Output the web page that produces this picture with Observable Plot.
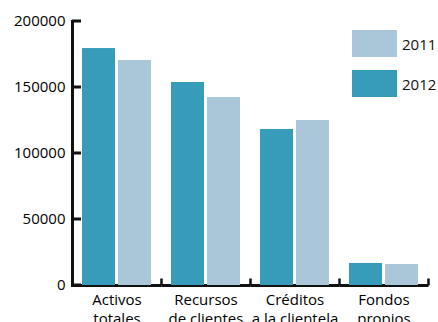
<!DOCTYPE html>
<html>
<head>
<meta charset="utf-8">
<script src="https://cdn.jsdelivr.net/npm/d3@7"></script>
<script src="https://cdn.jsdelivr.net/npm/@observablehq/plot@0.6"></script>
<style>
  html, body { margin: 0; padding: 0; background: #fff; }
  #chart { position: relative; width: 438px; height: 322px; }
  #chart svg { font-family: "Open Sans", sans-serif; font-size: 15px; }
  #legend { position: absolute; left: 352px; top: 30px; font: 15px "Open Sans", sans-serif; color: #111; }
  #legend .row { display: flex; align-items: center; height: 27px; margin-bottom: 13px; }
  #legend .sw { width: 45px; height: 27px; margin-right: 5px; }
</style>
</head>
<body>
<div id="chart"></div>
<script>
// Categories and their two-line axis labels
const categories = ["Activos totales", "Recursos de clientes", "Créditos a la clientela", "Fondos propios"];
const categoryLabels = ["Activos\ntotales", "Recursos\nde clientes", "Créditos\na la clientela", "Fondos\npropios"];

// Series (drawn order: 2012 first, then 2011)
const years = ["2012", "2011"];
const values2012 = [179500, 153800, 118200, 16700];
const values2011 = [170500, 142400, 125000, 15900];

// Legend order and colours
const legendYears = ["2011", "2012"];
const legendColors = ["#a9c7d8", "#379cba"];

// Y axis ticks
const yTicks = [0, 50000, 100000, 150000, 200000];

const rows = categories.flatMap((c, i) => [
  {category: c, year: "2012", value: values2012[i]},
  {category: c, year: "2011", value: values2011[i]}
]);

const width = 438, height = 322;
const marginTop = 21, marginBottom = 37, marginLeft = 72, marginRight = 10;
const facetHeight = height - marginTop - marginBottom;
const facetWidth = (width - marginLeft - marginRight) / categories.length;
const ink = "#111";
const axisWeight = 3, tickLength = 9, groupTickLength = 7;

const chart = Plot.plot({
  width, height, marginTop, marginBottom, marginLeft, marginRight,
  fx: {domain: categories, padding: 0, round: false, label: null},
  x: {domain: years, paddingInner: 3 / 36, paddingOuter: 0.278, round: false, axis: null},
  y: {domain: [0, 200000], label: null},
  color: {domain: legendYears, range: legendColors},
  marks: [
    // y axis line, drawn as a thin filled band at the left edge of the first group
    Plot.frame({
      fill: ink, facetAnchor: "left",
      insetLeft: -axisWeight / 2, insetRight: facetWidth - axisWeight / 2,
      insetTop: -axisWeight / 2, insetBottom: -axisWeight / 2
    }),
    // inward y ticks
    Plot.rect(yTicks, {
      y1: d => d, y2: d => d, fill: ink, facetAnchor: "left",
      insetTop: -axisWeight / 2, insetBottom: -axisWeight / 2,
      insetRight: facetWidth - tickLength
    }),
    // baseline
    Plot.frame({fill: ink, insetTop: facetHeight - axisWeight / 2, insetBottom: -axisWeight / 2}),
    // short ticks at the right edge of each group
    Plot.frame({
      fill: ink, insetLeft: facetWidth - 1.25, insetRight: -1.25,
      insetTop: facetHeight - groupTickLength
    }),
    Plot.axisY({
      ticks: yTicks, tickSize: 0, tickPadding: 7,
      tickFormat: d => String(d), fontSize: 15, label: null
    }),
    Plot.barY(rows, {fx: "category", x: "year", y: "value", fill: "year"}),
    Plot.axisFx({
      anchor: "bottom", tickSize: 0, tickPadding: 6, fontSize: 15, lineHeight: 1.27,
      tickFormat: d => categoryLabels[categories.indexOf(d)], label: null
    })
  ]
});

const root = document.getElementById("chart");
root.appendChild(chart);

// Legend placed over the top-right corner of the plot area
const legend = document.createElement("div");
legend.id = "legend";
legendYears.forEach((y, i) => {
  const row = document.createElement("div");
  row.className = "row";
  const sw = document.createElement("span");
  sw.className = "sw";
  sw.style.background = legendColors[i];
  const t = document.createElement("span");
  t.textContent = y;
  row.appendChild(sw);
  row.appendChild(t);
  legend.appendChild(row);
});
root.appendChild(legend);
</script>
</body>
</html>
